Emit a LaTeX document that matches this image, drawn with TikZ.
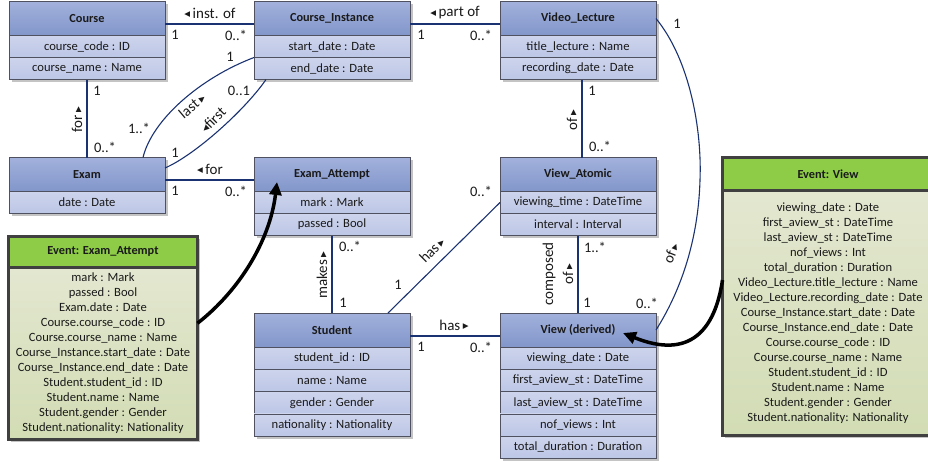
\documentclass[tikz,border=0pt]{standalone}
\usepackage{fontspec}
\setmainfont{Carlito}
\newfontfamily\symf{DejaVu Sans}
\usetikzlibrary{calc,backgrounds,arrows.meta}
\definecolor{hdtop}{HTML}{A2B1DC}
\definecolor{hdbot}{HTML}{8296CA}
\definecolor{attop}{HTML}{CDD4EC}
\definecolor{atbot}{HTML}{BCC6E6}
\definecolor{clsborder}{HTML}{4F5160}
\definecolor{linecol}{HTML}{1B3272}
\definecolor{evgreen}{HTML}{8ECC48}
\definecolor{evtop}{HTML}{E3E7D0}
\definecolor{evbot}{HTML}{D2DCB4}
\definecolor{evborder}{HTML}{404040}
\definecolor{shadowcol}{HTML}{C4C4C4}
\definecolor{txt}{HTML}{1A1A1A}
\newcommand\tril{\raisebox{1.5pt}{\symf\fontsize{7.5}{7.5}\selectfont ◀}}
\newcommand\trir{\raisebox{1.5pt}{\symf\fontsize{7.5}{7.5}\selectfont ▶}}
\begin{document}
\begin{tikzpicture}[x=1pt,y=-1pt,
  cls/.style={draw=clsborder, line width=0.8pt, minimum width=156pt, inner sep=0pt, outer sep=0pt, text=txt},
  hdr/.style={cls, top color=hdtop, bottom color=hdbot, minimum height=34pt, font=\bfseries\fontsize{12.3}{14}\selectfont},
  att/.style={cls, top color=attop, bottom color=atbot, minimum height=22pt, anchor=north, font=\fontsize{12.6}{14}\selectfont},
  assoc/.style={draw=linecol, line width=1.1pt},
  mult/.style={font=\fontsize{14.5}{16}\selectfont, inner sep=0pt, text=txt},
  rlab/.style={font=\fontsize{15}{17}\selectfont, inner sep=0pt, text=txt},
  evhdr/.style={draw=evborder, line width=3pt, fill=evgreen, inner sep=0pt, outer sep=0pt, text=txt, font=\bfseries\fontsize{12.3}{14}\selectfont},
  evbody/.style={draw=evborder, line width=3pt, top color=evtop, bottom color=evbot, inner sep=0pt, outer sep=0pt, anchor=north, align=center, text=txt, font=\fontsize{12.6}{15}\selectfont},
  bigarrow/.style={line width=3.5pt, black, -{Triangle[length=13pt,width=12pt]}}
]
\useasboundingbox (0,0) rectangle (928,461);

% ---------- classes ----------
\node[hdr] (course) at (87,18.5) {Course};
\node[att] (course-a1) at (course.south) {course\_code : ID};
\node[att] (course-a2) at (course-a1.south) {course\_name : Name};

\node[hdr] (ci) at (332,18.5) {Course\_Instance};
\node[att] (ci-a1) at (ci.south) {start\_date : Date};
\node[att] (ci-a2) at (ci-a1.south) {end\_date : Date};

\node[hdr] (vl) at (578,18.5) {Video\_Lecture};
\node[att] (vl-a1) at (vl.south) {title\_lecture : Name};
\node[att] (vl-a2) at (vl-a1.south) {recording\_date : Date};

\node[hdr] (exam) at (87,174.5) {Exam};
\node[att] (exam-a1) at (exam.south) {date : Date};

\node[hdr] (ea) at (332,174.5) {Exam\_Attempt};
\node[att] (ea-a1) at (ea.south) {mark : Mark};
\node[att] (ea-a2) at (ea-a1.south) {passed : Bool};

\node[hdr] (va) at (578,174.5) {View\_Atomic};
\node[att] (va-a1) at (va.south) {viewing\_time : DateTime};
\node[att] (va-a2) at (va-a1.south) {interval : Interval};

\node[hdr] (st) at (332,330) {Student};
\node[att, minimum height=22.3pt] (st-a1) at (st.south) {student\_id : ID};
\node[att, minimum height=22.3pt] (st-a2) at (st-a1.south) {name : Name};
\node[att, minimum height=22.3pt] (st-a3) at (st-a2.south) {gender : Gender};
\node[att, minimum height=22.3pt] (st-a4) at (st-a3.south) {nationality : Nationality};

\node[hdr] (vd) at (578,330) {View (derived)};
\node[att, minimum height=22.3pt] (vd-a1) at (vd.south) {viewing\_date : Date};
\node[att, minimum height=22.3pt] (vd-a2) at (vd-a1.south) {first\_aview\_st : DateTime};
\node[att, minimum height=22.3pt] (vd-a3) at (vd-a2.south) {last\_aview\_st : DateTime};
\node[att, minimum height=22.3pt] (vd-a4) at (vd-a3.south) {nof\_views : Int};
\node[att, minimum height=22.3pt] (vd-a5) at (vd-a4.south) {total\_duration : Duration};

% ---------- event boxes ----------
\node[evhdr, minimum width=189pt, minimum height=30.5pt] (eva) at (103,251.75) {Event: Exam\_Attempt};
\node[evbody, minimum width=189pt, minimum height=172.5pt] (evab) at (eva.south) {mark : Mark\\passed : Bool\\Exam.date : Date\\Course.course\_code : ID\\Course.course\_name : Name\\Course\_Instance.start\_date : Date\\Course\_Instance.end\_date : Date\\Student.student\_id : ID\\Student.name : Name\\Student.gender : Gender\\Student.nationality: Nationality};

\node[evhdr, minimum width=211pt, minimum height=32.5pt] (evv) at (828,173.75) {Event: View};
\node[evbody, minimum width=211pt, minimum height=245.5pt] (evvb) at (evv.south) {viewing\_date : Date\\first\_aview\_st : DateTime\\last\_aview\_st : DateTime\\nof\_views : Int\\total\_duration : Duration\\Video\_Lecture.title\_lecture : Name\\Video\_Lecture.recording\_date : Date\\Course\_Instance.start\_date : Date\\Course\_Instance.end\_date : Date\\Course.course\_code : ID\\Course.course\_name : Name\\Student.student\_id : ID\\Student.name : Name\\Student.gender : Gender\\Student.nationality: Nationality};

% ---------- shadows ----------
\begin{pgfonlayer}{background}
\foreach \a/\b in {course/course-a2, ci/ci-a2, vl/vl-a2, exam/exam-a1, ea/ea-a2, va/va-a2, st/st-a4, vd/vd-a5, eva/evab, evv/evvb}
  \fill[shadowcol] ($(\a.north west)+(2.5,2.5)$) rectangle ($(\b.south east)+(2.5,2.5)$);
\end{pgfonlayer}

% ---------- associations ----------
\draw[assoc] ([yshift=-5.5pt]course.east) -- ([yshift=-5.5pt]ci.west);
\draw[assoc] ([yshift=-5.5pt]ci.east) -- ([yshift=-5.5pt]vl.west);
\draw[assoc] (course-a2.south) -- (exam.north);
\draw[assoc] ([yshift=-5.5pt]exam.east) -- ([yshift=-5.5pt]ea.west);
\draw[assoc] ([xshift=56pt]exam.north) .. controls (152,120) and (200,78) .. (ci-a1.south west);
\draw[assoc] ([yshift=6.5pt]exam.east) .. controls (195,155) and (245,110) .. ([xshift=12pt]ci-a2.south west);
\draw[assoc] ([xshift=4pt]vl-a2.south) -- ([xshift=4pt]va.north);
\draw[assoc] (ea-a2.south) -- (st.north);
\draw[assoc] ([xshift=-22pt]st.north east) -- (va-a1.west);
\draw[assoc] ([yshift=-6pt]st.east) -- ([yshift=-6pt]vd.west);
\draw[assoc] (va-a2.south) -- (vd.north);
\draw[assoc] (vl.east) .. controls (690,60) and (702,130) .. (700,180) .. controls (698,250) and (675,300) .. (vd.east);

% ---------- derivation arrows ----------
\draw[bigarrow] ([yshift=30pt]evab.east) .. controls (240,290) and (270,240) .. ([xshift=-55pt,yshift=-7.5pt]ea.center);
\draw[bigarrow] ([yshift=32.75pt]evvb.west) .. controls (715,330) and (690,360) .. ([xshift=45pt,yshift=-3pt]vd.center);

% ---------- labels ----------
\node[rlab] (l-inst) at (210,13) {\tril\,inst. of};
\node[mult] (m1) at (175,35) {1};
\node[mult] (m2) at (236,35) {0..*};

\node[rlab] (l-part) at (455,13) {\tril\,part of};
\node[mult] (m3) at (421,35) {1};
\node[mult] (m4) at (481,35) {0..*};

\node[rlab, rotate=90] (l-for1) at (77,120) {for\,\trir};
\node[mult] (m5) at (97,91) {1};
\node[mult] (m6) at (105,147) {0..*};

\node[rlab, rotate=40] (l-last) at (192,106) {last\,\trir};
\node[mult] (m7) at (139,128) {1..*};
\node[mult] (m8) at (230,57) {1};

\node[rlab, rotate=45] (l-first) at (213,120) {\tril first};
\node[mult] (m9) at (239,91) {0..1};
\node[mult] (m10) at (175,153) {1};

\node[rlab] (l-for2) at (210,169) {\tril\,for};
\node[mult] (m11) at (175,191) {1};
\node[mult] (m12) at (236,191) {0..*};

\node[rlab, rotate=90] (l-of1) at (572,120) {of\,\trir};
\node[mult] (m13) at (592,91) {1};
\node[mult] (m14) at (600,146) {0..*};

\node[rlab, rotate=90] (l-makes) at (322,275) {makes\,\trir};
\node[mult] (m15) at (350,246) {0..*};
\node[mult] (m16) at (343,303) {1};

\node[rlab, rotate=45] (l-has1) at (432,250) {has\,\trir};
\node[mult] (m17) at (398,285) {1};
\node[mult] (m18) at (481,191) {0..*};

\node[rlab] (l-has2) at (454,325) {has\,\trir};
\node[mult] (m19) at (421,347) {1};
\node[mult] (m20) at (481,347) {0..*};

\node[rlab, rotate=90, align=center, font=\fontsize{15}{20}\selectfont] (l-comp) at (558,274) {composed\\of\,\trir};
\node[mult] (m21) at (595,247) {1..*};
\node[mult] (m22) at (587,303) {1};

\node[rlab, rotate=68] (l-of2) at (671,253) {of\,\trir};
\node[mult] (m23) at (677,24) {1};
\node[mult] (m24) at (647,303) {0..*};
\end{tikzpicture}
\end{document}
